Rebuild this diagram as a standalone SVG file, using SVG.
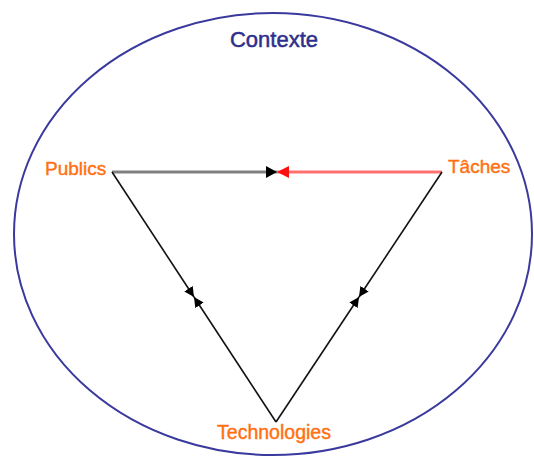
<svg xmlns="http://www.w3.org/2000/svg" width="534" height="462" viewBox="0 0 534 462">
<style>
.lbl{font-family:"Liberation Sans",Arial,sans-serif;font-size:19px;fill:#ff7010;stroke:#ff7010;stroke-width:0.4}
.ctx{font-family:"Liberation Sans",Arial,sans-serif;font-size:22px;fill:#2e2e8c;stroke:#2e2e8c;stroke-width:0.5}
.edge{fill:none;stroke:#111;stroke-width:1.6}
</style>
<defs>
<marker id="ab" markerUnits="userSpaceOnUse" markerWidth="12" markerHeight="12" refX="11" refY="6" orient="auto"><path d="M0,0 L11,6 L0,12 z" fill="#000"/></marker>
<marker id="ar" markerUnits="userSpaceOnUse" markerWidth="13" markerHeight="12" refX="12" refY="6" orient="auto"><path d="M0,0 L12,6 L0,12 z" fill="#ff1010"/></marker>
<marker id="as" markerUnits="userSpaceOnUse" markerWidth="11" markerHeight="10" refX="10" refY="5" orient="auto"><path d="M0,0 L10,5 L0,10 z" fill="#000"/></marker>
</defs>
<g id="contexte">
<ellipse cx="273" cy="234" rx="259" ry="221" fill="none" stroke="#3a3a9e" stroke-width="2"/>
<text class="ctx" x="274" y="47" text-anchor="middle">Contexte</text>
</g>
<g id="connectors">
<line x1="112" y1="172" x2="277" y2="172" stroke="#808080" stroke-width="3" marker-end="url(#ab)"/>
<line x1="442" y1="172" x2="277" y2="172" stroke="#ff7070" stroke-width="3" marker-end="url(#ar)"/>
<line class="edge" x1="112" y1="172" x2="194" y2="297" marker-end="url(#as)"/>
<line class="edge" x1="276" y1="422" x2="194" y2="297" marker-end="url(#as)"/>
<line class="edge" x1="442" y1="172" x2="359" y2="297" marker-end="url(#as)"/>
<line class="edge" x1="276" y1="422" x2="359" y2="297" marker-end="url(#as)"/>
</g>
<g id="publics"><text class="lbl" x="45" y="175">Publics</text></g>
<g id="taches"><text class="lbl" x="448" y="173">Tâches</text></g>
<g id="technologies"><text class="lbl" x="274" y="439" text-anchor="middle" style="font-size:19.5px">Technologies</text></g>
</svg>
